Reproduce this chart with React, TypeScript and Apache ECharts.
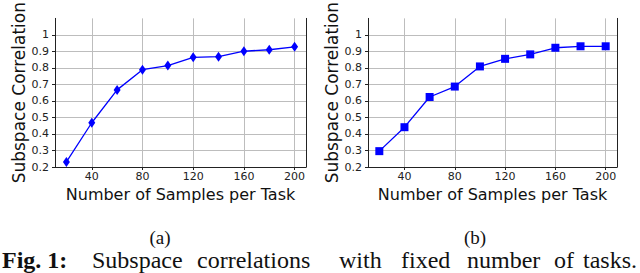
import React, { useEffect, useRef } from "react";
import * as echarts from "echarts";

const samples = [20, 40, 60, 80, 100, 120, 140, 160, 180, 200];
const corrA = [0.231, 0.468, 0.667, 0.789, 0.814, 0.864, 0.868, 0.901, 0.91, 0.928];
const corrB = [0.296, 0.441, 0.624, 0.687, 0.809, 0.855, 0.882, 0.922, 0.931, 0.931];
const xTicks = [40, 80, 120, 160, 200];
const yTicks = [0.2, 0.3, 0.4, 0.5, 0.6, 0.7, 0.8, 0.9, 1.0];
const xName = "Number of Samples per Task";
const yName = "Subspace Correlation";
const subLabels = ["(a)", "(b)"];
const captionWords = ["Subspace", "correlations", "with", "fixed", "number", "of", "tasks."];
const captionX = [92, 197, 339, 401, 467, 554, 583];

const FONT = "DejaVu Sans";
const SERIF = "Liberation Serif";
const BLUE = "#0000ff";

function makeX(gridIndex: number) {
  return {
    type: "value",
    gridIndex,
    min: 11,
    max: 209,
    name: xName,
    nameLocation: "middle",
    nameGap: 18,
    nameTextStyle: { fontFamily: FONT, fontSize: 16, color: "#111" },
    axisLine: { show: true, onZero: false, lineStyle: { color: "#222", width: 1 } },
    axisTick: { show: true, length: 3, customValues: xTicks, lineStyle: { color: "#222" } },
    axisLabel: {
      customValues: xTicks,
      fontFamily: FONT,
      fontSize: 11,
      color: "#222",
      margin: 4,
    },
    splitLine: { show: true, lineStyle: { color: "#bdbdbd", width: 1 } },
  };
}

function makeY(gridIndex: number) {
  return {
    type: "value",
    gridIndex,
    min: 0.2,
    max: 1.1,
    name: yName,
    nameLocation: "middle",
    nameGap: 28,
    nameTextStyle: { fontFamily: FONT, fontSize: 17, color: "#111" },
    axisLine: { show: true, onZero: false, lineStyle: { color: "#222", width: 1 } },
    axisTick: { show: true, length: 3, customValues: yTicks, lineStyle: { color: "#222" } },
    axisLabel: {
      customValues: yTicks,
      fontFamily: FONT,
      fontSize: 11,
      color: "#222",
      margin: 6,
      formatter: (v: number) => {
        const r = Math.round(v * 10) / 10;
        return r === 1 ? "1" : r.toFixed(1);
      },
    },
    splitLine: { show: true, lineStyle: { color: "#bdbdbd", width: 1 } },
  };
}

function makeRightEdge(gridIndex: number) {
  return {
    type: "value",
    gridIndex,
    position: "right",
    min: 0.2,
    max: 1.1,
    axisLine: { show: true, onZero: false, lineStyle: { color: "#222", width: 1 } },
    axisTick: { show: false },
    axisLabel: { show: false },
    splitLine: { show: false },
  };
}

export default function App() {
  const ref = useRef<HTMLDivElement>(null);
  useEffect(() => {
    if (!ref.current) return;
    const chart = echarts.init(ref.current, null, { renderer: "svg" });
    const subX = [160, 475];
    const graphics: any[] = [
      ...subLabels.map((t, i) => ({
        type: "text",
        x: subX[i],
        y: 237,
        style: { text: t, font: `19px "${SERIF}"`, fill: "#111", textAlign: "center", textVerticalAlign: "middle" },
      })),
      {
        type: "text",
        x: 2,
        y: 272,
        style: { text: "Fig. 1:", font: `bold 24px "${SERIF}"`, fill: "#111", textAlign: "left", textVerticalAlign: "bottom" },
      },
      ...captionWords.map((w, i) => ({
        type: "text",
        x: captionX[i],
        y: 272,
        style: { text: w, font: `24px "${SERIF}"`, fill: "#111", textAlign: "left", textVerticalAlign: "bottom" },
      })),
    ];
    chart.setOption({
      animation: false,
      backgroundColor: "#ffffff",
      grid: [
        { left: 55, right: 334, top: 5, bottom: 106, containLabel: false },
        { left: 368, right: 23, top: 5, bottom: 106, containLabel: false },
      ],
      xAxis: [makeX(0), makeX(1)],
      yAxis: [makeY(0), makeY(1), makeRightEdge(0), makeRightEdge(1)],
      series: [
        {
          type: "line",
          xAxisIndex: 0,
          yAxisIndex: 0,
          data: samples.map((s, i) => [s, corrA[i]]),
          lineStyle: { color: BLUE, width: 1.3 },
          itemStyle: { color: BLUE },
          symbol: "diamond",
          symbolSize: [7, 10],
        },
        {
          type: "line",
          xAxisIndex: 1,
          yAxisIndex: 1,
          data: samples.map((s, i) => [s, corrB[i]]),
          lineStyle: { color: BLUE, width: 1.3 },
          itemStyle: { color: BLUE },
          symbol: "rect",
          symbolSize: 8,
        },
      ],
      graphic: graphics,
    });
    return () => chart.dispose();
  }, []);
  return <div ref={ref} style={{ width: 640, height: 273, position: "fixed", left: 0, top: 0 }} />;
}
